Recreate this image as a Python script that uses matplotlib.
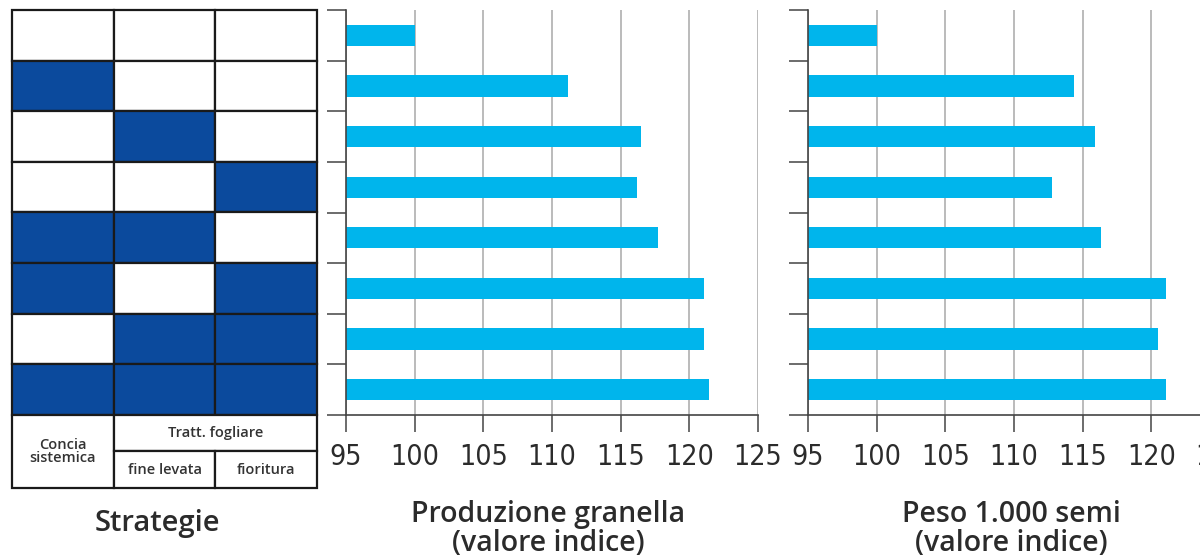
import matplotlib
matplotlib.use('Agg')
import matplotlib.pyplot as plt
from matplotlib import font_manager
from matplotlib.patches import Rectangle

plt.rcParams['font.family'] = ['Open Sans', 'DejaVu Sans']

# strategies: concia sistemica, fine levata, fioritura (1 = treated)
strategie = [
    [0, 0, 0],
    [1, 0, 0],
    [0, 1, 0],
    [0, 0, 1],
    [1, 1, 0],
    [1, 0, 1],
    [0, 1, 1],
    [1, 1, 1],
]
produzione = [100, 111.2, 116.5, 116.2, 117.7, 121.1, 121.1, 121.4]
peso = [100, 114.4, 115.9, 112.8, 116.3, 121.1, 120.5, 121.1]
xticks = [95, 100, 105, 110, 115, 120, 125]

NAVY = '#0b4a9d'
CYAN = '#00b5ec'
DARK = '#2b2b2b'
W, H = 1200, 558

# narrow font for the tick numbers, whatever is there
fonts = font_manager.fontManager.ttflist
names = {f.name for f in fonts}
if 'Liberation Sans Narrow' in names:
    tick_font = dict(fontfamily='Liberation Sans Narrow', fontstretch='normal', fontsize=22)
elif any(f.name == 'DejaVu Sans' and f.stretch == 'condensed' for f in fonts):
    tick_font = dict(fontfamily='DejaVu Sans', fontstretch='condensed', fontsize=20.5)
else:
    tick_font = dict(fontfamily='Roboto', fontstretch='normal', fontsize=19)


def box(x0, y0, x1, y1):
    # pixel box (top-left origin) -> figure fraction
    return [x0 / W, 1 - y1 / H, (x1 - x0) / W, (y1 - y0) / H]


fig = plt.figure(figsize=(12, 5.58), dpi=100)

# ---- strategy table ----
ax_t = fig.add_axes(box(12, 10, 317, 488))
hdr = 73 / 50.6
ax_t.set_xlim(0, 3)
ax_t.set_ylim(8 + hdr, 0)
ax_t.axis('off')
for i, row in enumerate(strategie):
    for j, v in enumerate(row):
        ax_t.add_patch(Rectangle((j, i), 1, 1, facecolor=NAVY if v else 'white',
                                 edgecolor='#1a1a1a', lw=1.6, clip_on=False))
half = hdr / 2
cells = [((0, 8), 1, hdr), ((1, 8), 2, half), ((1, 8 + half), 1, half), ((2, 8 + half), 1, half)]
for xy, w, h in cells:
    ax_t.add_patch(Rectangle(xy, w, h, facecolor='white', edgecolor='#1a1a1a', lw=1.6, clip_on=False))
tkw = dict(ha='center', va='center', fontsize=10.5, fontweight='semibold', color='#333333')
ax_t.text(0.5, 8 + hdr / 2, 'Concia\nsistemica', linespacing=0.95, **tkw)
ax_t.text(2.0, 8 + half / 2, 'Tratt. fogliare', **tkw)
ax_t.text(1.5, 8 + half * 1.5, 'fine levata', **tkw)
ax_t.text(2.5, 8 + half * 1.5, 'fioritura', **tkw)
fig.text(157 / W, 1 - 523 / H, 'Strategie', ha='center', va='center',
         fontsize=21, fontweight='semibold', color=DARK)


# ---- bar panels ----
def bar_panel(rect, values):
    ax = fig.add_axes(rect)
    pos = list(range(len(values)))
    ax.barh(pos, values, height=0.42, color=CYAN, zorder=2)
    ax.set_xlim(95, 125)
    ax.set_ylim(7.5, -0.5)
    ax.set_xticks(xticks)
    ax.set_xticklabels([str(t) for t in xticks], color=DARK, **tick_font)
    ax.set_yticks([i - 0.5 for i in range(len(values) + 1)])
    ax.set_yticklabels([])
    ax.grid(axis='x', color='#a8a8a8', lw=1.1)
    ax.set_axisbelow(True)
    ax.tick_params(axis='y', length=13.5, width=1.1, color='#444444', direction='out')
    ax.tick_params(axis='x', length=12, width=1.1, color='#444444', pad=8)
    for s in ['top', 'right']:
        ax.spines[s].set_visible(False)
    for s in ['left', 'bottom']:
        ax.spines[s].set_color('#444444')
        ax.spines[s].set_linewidth(1.2)
    return ax


bar_panel(box(346, 10, 758, 415), produzione)
bar_panel(box(808, 10, 1220, 415), peso)

lkw = dict(ha='center', va='center', fontsize=20.5, fontweight='semibold', color=DARK, linespacing=1.0)
fig.text(548 / W, 1 - 529 / H, 'Produzione granella\n(valore indice)', **lkw)
fig.text(1011 / W, 1 - 529 / H, 'Peso 1.000 semi\n(valore indice)', **lkw)

fig.savefig('out.png', dpi=100)
